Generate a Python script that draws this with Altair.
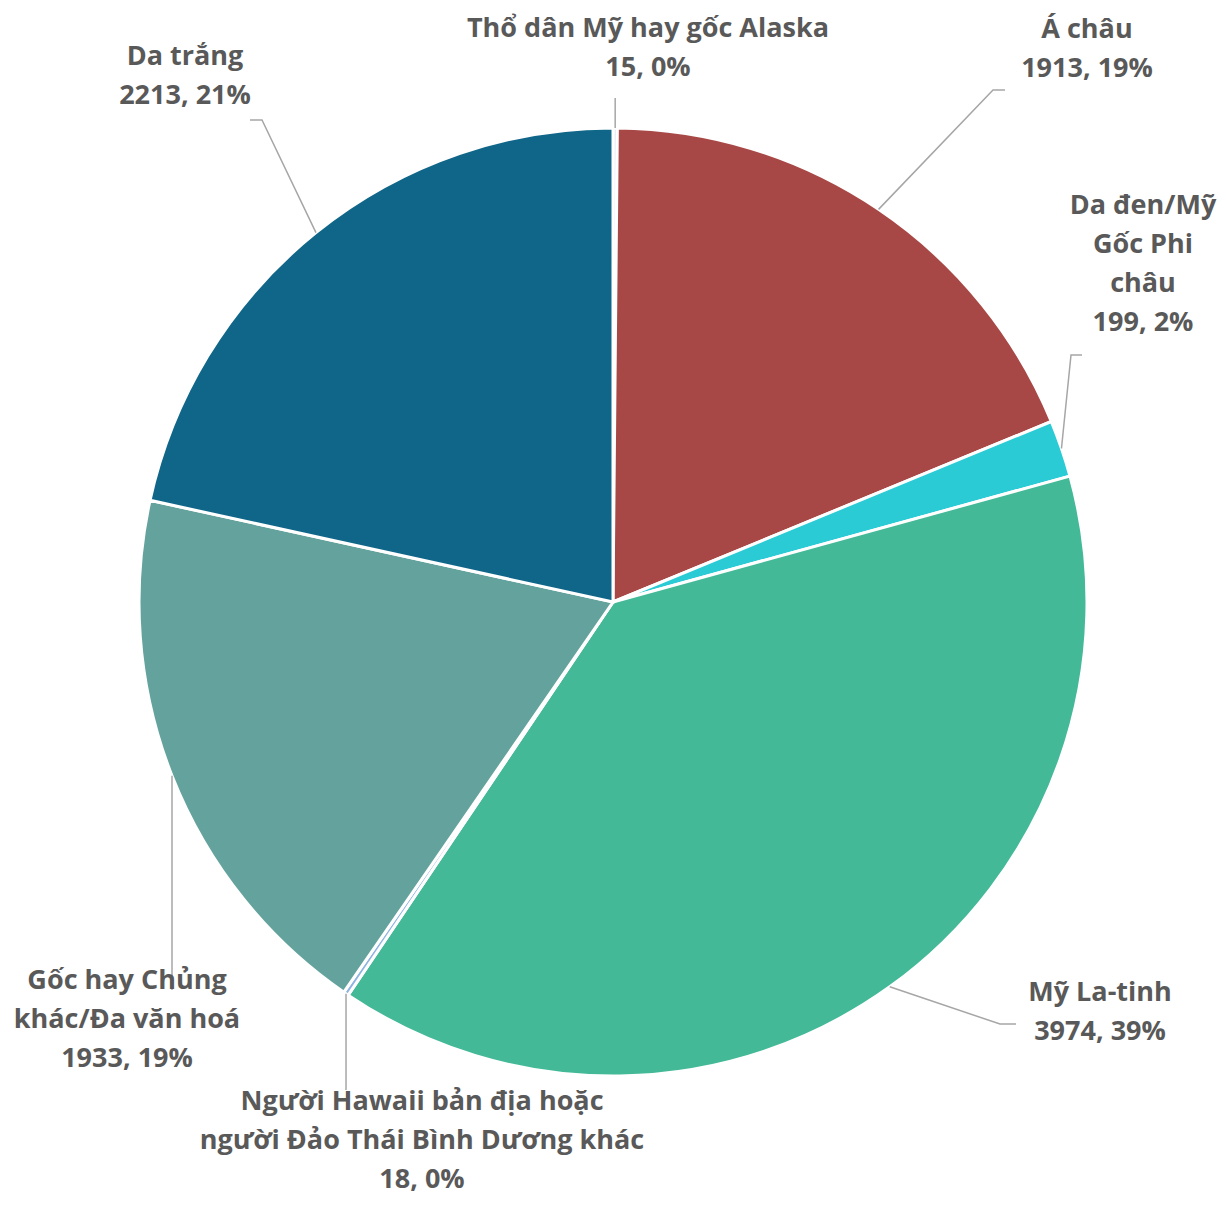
import altair as alt
import numpy as np
import pandas as pd

# ---- data ----
categories = [
    "Thổ dân Mỹ hay gốc Alaska",
    "Á châu",
    "Da đen/Mỹ Gốc Phi châu",
    "Mỹ La-tinh",
    "Người Hawaii bản địa hoặc người Đảo Thái Bình Dương khác",
    "Gốc hay Chủng khác/Đa văn hoá",
    "Da trắng",
]
values = [15, 1913, 199, 3974, 18, 1933, 2213]
percents = [0, 19, 2, 39, 0, 19, 21]
label_names = [
    "Thổ dân Mỹ hay gốc Alaska",
    "Á châu",
    "Da đen/Mỹ\nGốc Phi\nchâu",
    "Mỹ La-tinh",
    "Người Hawaii bản địa hoặc\nngười Đảo Thái Bình Dương khác",
    "Gốc hay Chủng\nkhác/Đa văn hoá",
    "Da trắng",
]

# ---- styling / layout ----
colors = ["#DDE3EE", "#A84846", "#2BCBD6", "#43B997", "#8FB4E3", "#64A39D", "#106688"]
W, H = 1210, 1188
R = 474
CX, CY = W / 2, H / 2
label_x = [640, 1079, 1135, 1092, 414, 119, 177]
label_y = [21, 22, 198, 985, 1094, 973, 49]
elbow_x = [None, 985, 1063, 992, None, None, 254]
elbow_y = [90, 82, 347, 1016, 1082, 982, 112]
end_x = [None, 997, 1074, 1008, None, None, 242]

vals = np.array(values, dtype=float)
total = vals.sum()
cum = np.cumsum(vals)
mid = (cum - vals / 2) / total * 2 * np.pi
edge_x = CX + R * np.sin(mid)
edge_y = CY - R * np.cos(mid)

df = pd.DataFrame({"category": categories, "value": values, "idx": range(len(values))})

lab = pd.DataFrame({
    "category": categories,
    "text": [f"{n}\n{v}, {p}%" for n, v, p in zip(label_names, values, percents)],
    "x": label_x,
    "y": label_y,
})

rows = []
for i in range(len(categories)):
    ex = elbow_x[i] if elbow_x[i] is not None else edge_x[i]
    tx = end_x[i] if end_x[i] is not None else ex
    rows.append({"category": categories[i], "k": 0, "x": edge_x[i], "y": edge_y[i]})
    rows.append({"category": categories[i], "k": 1, "x": ex, "y": elbow_y[i]})
    rows.append({"category": categories[i], "k": 2, "x": tx, "y": elbow_y[i]})
lines = pd.DataFrame(rows)

xs = alt.Scale(domain=[0, W], nice=False, zero=False)
ys = alt.Scale(domain=[0, H], nice=False, zero=False, reverse=True)

pie = alt.Chart(df).mark_arc(outerRadius=R, stroke="white", strokeWidth=3).encode(
    theta=alt.Theta("value:Q", stack=True),
    color=alt.Color("category:N", scale=alt.Scale(domain=categories, range=colors), legend=None),
    order=alt.Order("idx:Q"),
)

leaders = alt.Chart(lines).mark_line(color="#A6A6A6", strokeWidth=1.5).encode(
    x=alt.X("x:Q", scale=xs, axis=None),
    y=alt.Y("y:Q", scale=ys, axis=None),
    detail="category:N",
    order="k:Q",
)

labels = alt.Chart(lab).mark_text(
    font="Open Sans", fontWeight="bold", fontSize=27, color="#595959",
    lineBreak="\n", lineHeight=39, align="center", baseline="middle",
).encode(
    x=alt.X("x:Q", scale=xs, axis=None),
    y=alt.Y("y:Q", scale=ys, axis=None),
    text="text:N",
)

chart = alt.layer(pie, leaders, labels).properties(
    width=W, height=H,
    padding=0,
    autosize=alt.AutoSizeParams(type="none"),
).configure_view(stroke=None)

chart.save("out.html", embed_options={"renderer": "svg", "actions": False})
